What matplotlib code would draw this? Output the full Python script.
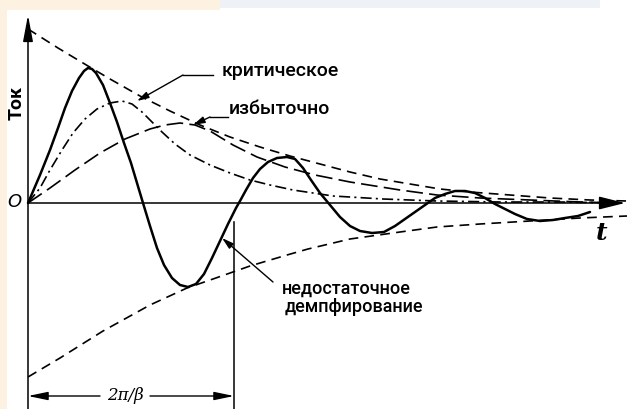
import matplotlib.pyplot as plt
from matplotlib.patches import Rectangle

plt.rcParams['lines.scale_dashes'] = False
plt.rcParams['font.family'] = ['Roboto', 'DejaVu Sans']

# time (arbitrary units) and current for each regime
t_under = [0, 12, 22, 30, 37, 44, 51, 56, 60, 64, 68, 75, 82, 89, 96, 103, 109, 115,
           122, 129, 136, 144, 152, 160, 168, 176, 184, 192, 200, 208, 212, 218,
           225, 232, 240, 249, 259, 267, 275, 283, 292, 302, 312, 322, 332, 344,
           356, 367, 377, 387, 397, 407, 417, 427, 437, 447, 457, 467, 477, 487,
           499, 512, 525, 537, 550, 562]
i_under = [0, 28, 53, 75, 95, 112, 125, 132, 135, 134, 130, 118, 100, 81, 60, 40, 20, 0,
           -23, -45, -62, -75, -82, -84, -81, -71, -55, -38, -21, -5, 2, 13,
           25, 34, 41, 45, 46, 44, 35, 23, 10, -2, -14, -23, -28, -30,
           -29, -23, -16, -9, -2, 5, 9, 12, 12, 10, 5, -1, -6, -11,
           -16, -18, -17, -15, -13, -9]

t_crit = [0, 12, 22, 34, 45, 57, 69, 82, 94, 104, 114, 124, 134, 147, 162, 182,
          202, 222, 242, 265, 305, 355, 409, 472, 532, 592]
i_crit = [0, 15, 33, 53, 70, 84, 94, 100, 102, 99, 91, 81, 71, 59, 48, 38,
          30, 23, 18, 13, 7, 4, 2, 1, 1, 0]

t_over = [0, 22, 47, 72, 97, 122, 137, 152, 167, 182, 205, 229, 257, 287, 322,
          372, 409, 452, 502, 552, 592]
i_over = [0, 15, 33, 50, 64, 74, 78, 80, 78, 72, 58, 46, 36, 28, 21,
          13, 8, 5, 3, 1, 0]

t_env_hi = [0, 30, 60, 82, 112, 142, 172, 202, 232, 262, 292, 322, 352, 382,
            412, 442, 482, 522, 562, 599]
i_env_hi = [174, 155, 137, 124, 107, 92, 78, 66, 56, 47, 39, 31, 24, 19,
            14, 11, 8, 5, 3, 2]

t_env_lo = [0, 32, 75, 122, 159, 185, 222, 259, 280, 322, 372, 409, 452, 502,
            552, 599]
i_env_lo = [-174, -155, -128, -102, -85, -76, -63, -52, -46, -36, -29, -24,
            -21, -18, -15, -13]

period = 206

fig = plt.figure(figsize=(6.28, 4.09), dpi=100)
ax = fig.add_axes([0, 0, 1, 1])
ax.set_xlim(-28, 600)
ax.set_ylim(-206, 203)
ax.axis('off')

# faint background tint
ax.add_patch(Rectangle((0, 0), 7 / 628, 1, transform=ax.transAxes,
                       color='#fdf2e2', lw=0, zorder=0))
ax.add_patch(Rectangle((0, 1 - 10 / 409), 220 / 628, 10 / 409, transform=ax.transAxes,
                       color='#fdf2e2', lw=0, zorder=0))
ax.add_patch(Rectangle((220 / 628, 1 - 8 / 409), 380 / 628, 8 / 409, transform=ax.transAxes,
                       color='#eef2f6', lw=0, zorder=0))

# axes with arrows
ax.annotate('', xy=(0, 188), xytext=(0, -206),
            arrowprops=dict(arrowstyle='-|>,head_length=1.6,head_width=0.3',
                            lw=1.1, color='k', shrinkA=0, shrinkB=0, mutation_scale=10))
ax.annotate('', xy=(597, 0), xytext=(0, 0),
            arrowprops=dict(arrowstyle='-|>,head_length=1.6,head_width=0.4',
                            lw=1.1, color='k', shrinkA=0, shrinkB=0, mutation_scale=10))

ax.plot(t_env_hi, i_env_hi, color='k', lw=1.2, ls=(0, (7, 4.5)))
ax.plot(t_env_lo, i_env_lo, color='k', lw=1.2, ls=(0, (7, 4.5)))
ax.plot(t_over, i_over, color='k', lw=1.2, ls=(0, (12, 4.5)))
ax.plot(t_crit, i_crit, color='k', lw=1.2, ls=(0, (8, 3, 1.5, 3)))
ax.plot(t_under, i_under, color='k', lw=1.8, solid_capstyle='round',
        solid_joinstyle='round')

# period marker
ax.plot([period, period], [-19, -206], color='k', lw=1.1)
ax.annotate('', xy=(0, -193), xytext=(72, -193),
            arrowprops=dict(arrowstyle='-|>,head_length=1.2,head_width=0.25',
                            lw=1.0, color='k', shrinkA=0, shrinkB=0, mutation_scale=10))
ax.annotate('', xy=(period, -193), xytext=(122, -193),
            arrowprops=dict(arrowstyle='-|>,head_length=1.2,head_width=0.25',
                            lw=1.0, color='k', shrinkA=0, shrinkB=0, mutation_scale=10))
ax.text(97, -193, '2π/β', ha='center', va='center', fontsize=12, style='italic',
        family=['DejaVu Serif'])

# leaders
lead = dict(arrowstyle='-|>,head_length=0.7,head_width=0.2', lw=1.0, color='k',
            shrinkA=0, shrinkB=0, mutation_scale=10)
ax.plot([155, 185], [128, 128], color='k', lw=1.0)
ax.annotate('', xy=(109, 102), xytext=(155, 128), arrowprops=lead)
ax.text(194, 132, 'критическое', ha='left', va='center', fontsize=14,
        fontweight='medium')

ax.plot([182, 200], [86, 86], color='k', lw=1.0)
ax.annotate('', xy=(165, 78), xytext=(182, 86), arrowprops=lead)
ax.text(201, 94, 'избыточно', ha='left', va='center', fontsize=14,
        fontweight='medium')

ax.annotate('', xy=(194, -35), xytext=(245, -79), arrowprops=lead)
ax.text(254, -86, 'недостаточное', ha='left', va='center', fontsize=13,
        fontweight='medium')
ax.text(257, -104, 'демпфирование', ha='left', va='center', fontsize=13,
        fontweight='medium')

ax.text(-11, 100, 'Ток', ha='center', va='center', rotation=90, fontsize=14,
        fontweight='bold')
ax.text(-14, 1, 'O', ha='center', va='center', fontsize=13, style='italic',
        family=['DejaVu Sans'])
ax.text(574, -30, 't', ha='center', va='center', fontsize=18, style='italic',
        fontweight='bold', family=['DejaVu Serif'])

fig.savefig('out.png', dpi=100)
